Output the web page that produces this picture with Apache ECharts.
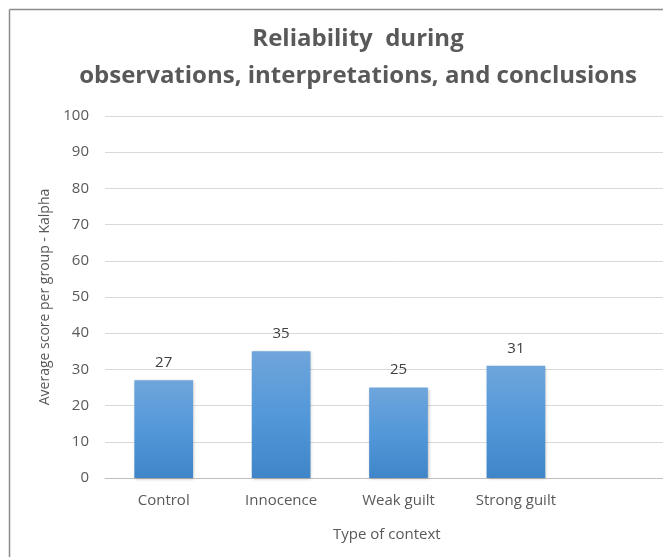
<!DOCTYPE html>
<html><head><meta charset="utf-8">
<script src="https://cdn.jsdelivr.net/npm/echarts@6/dist/echarts.min.js"></script>
<style>html,body{margin:0;padding:0;background:#fff;overflow:hidden}#c{width:692px;height:557px}</style>
</head><body><div id="c"></div>
<script>
var categories = ['Control', 'Innocence', 'Weak guilt', 'Strong guilt', ''];
var values = [27, 35, 25, 31, null];
var yTicks = { min: 0, max: 100, interval: 10 };
var titleLines = ['Reliability  during', 'observations, interpretations, and conclusions'];
var xName = 'Type of context';
var yName = 'Average score per group - Kalpha';

var FONT = 'Open Sans';
var chart = echarts.init(document.getElementById('c'), null, { renderer: 'canvas' });
chart.setOption({
  animation: false,
  backgroundColor: '#fff',
  title: {
    text: titleLines.join('\n'),
    left: 353, top: 16, textAlign: 'center',
    textStyle: { fontFamily: FONT, fontSize: 24, fontWeight: 'bold', color: '#595959', lineHeight: 37 }
  },
  graphic: [
    { type: 'line', shape: { x1: 9.5, y1: 9.5, x2: 692, y2: 9.5 }, style: { stroke: '#8c8c8c', lineWidth: 1.5 } },
    { type: 'line', shape: { x1: 9.5, y1: 9.5, x2: 9.5, y2: 557 }, style: { stroke: '#8c8c8c', lineWidth: 1.5 } },
    { type: 'text', left: 333, top: 527, style: { text: xName, fontFamily: FONT, fontSize: 15, fill: '#595959', textAlign: 'center' } }
  ],
  grid: { left: 105, right: 0, top: 116, bottom: 79, containLabel: false },
  xAxis: {
    type: 'category', data: categories,
    axisLine: { lineStyle: { color: '#bfbfbf', width: 1 } },
    axisTick: { show: false },
    axisLabel: { fontFamily: FONT, fontSize: 15, color: '#595959', margin: 15 }
  },
  yAxis: {
    type: 'value', min: yTicks.min, max: yTicks.max, interval: yTicks.interval,
    axisLine: { show: false }, axisTick: { show: false },
    splitLine: { lineStyle: { color: '#d9d9d9', width: 1 } },
    axisLabel: { fontFamily: FONT, fontSize: 15, color: '#595959', margin: 16 },
    name: yName, nameLocation: 'middle', nameGap: 53, nameRotate: 90,
    nameTextStyle: { fontFamily: FONT, fontSize: 14, color: '#595959' }
  },
  series: [{
    type: 'bar', data: values, barWidth: '50%',
    itemStyle: {
      color: new echarts.graphic.LinearGradient(0, 0, 0, 1, [
        { offset: 0, color: '#6fa5db' }, { offset: 0.5, color: '#5398d9' }, { offset: 1, color: '#3f86c8' }
      ]),
      shadowColor: 'rgba(0,0,0,0.25)', shadowBlur: 3, shadowOffsetX: 1, shadowOffsetY: 1
    },
    label: { show: true, position: 'top', distance: 10, fontFamily: FONT, fontSize: 15, color: '#404040' }
  }]
});
</script></body></html>
